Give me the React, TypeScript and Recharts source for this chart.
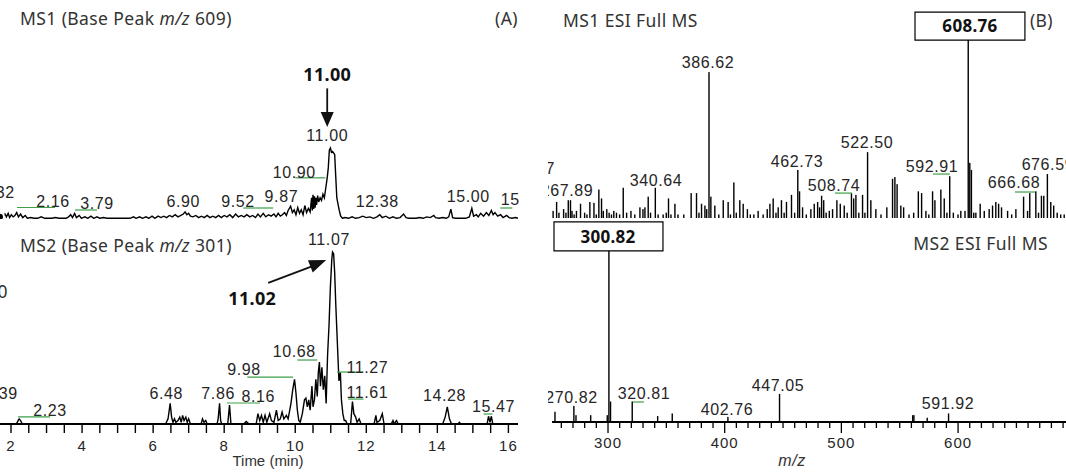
import React from "react";
import {
  Bar,
  BarChart,
  Line,
  LineChart,
  ReferenceArea,
  ReferenceDot,
  ReferenceLine,
  XAxis,
  YAxis,
} from "recharts";

// MS1 base peak chromatogram (m/z 609): [time (min), relative abundance %]
const ms1Trace: [number, number][] = [
  [1.69, 3], [1.74, 6], [1.78, 2], [1.83, 7], [1.87, 3], [1.92, 8], [1.96, 2], [2.01, 6],
  [2.06, 3], [2.11, 5], [2.16, 9], [2.21, 3], [2.27, 7], [2.33, 2], [2.4, 5], [2.46, 1],
  [2.55, 2], [2.65, 1], [2.75, 1], [2.85, 3], [2.95, 1], [3.05, 1], [3.15, 1], [3.25, 2],
  [3.35, 1], [3.45, 1], [3.55, 1], [3.62, 3], [3.68, 6], [3.73, 2], [3.79, 8], [3.84, 2],
  [3.92, 5], [3.98, 1], [4.08, 3], [4.16, 1], [4.25, 4], [4.33, 1], [4.42, 3], [4.5, 1],
  [4.6, 2], [4.7, 1], [4.8, 1], [4.9, 1], [5.0, 1], [5.1, 1], [5.2, 1], [5.35, 1],
  [5.45, 3], [5.52, 1], [5.62, 3], [5.7, 1], [5.8, 3], [5.88, 1], [5.97, 4], [6.05, 1],
  [6.14, 4], [6.22, 2], [6.3, 4], [6.38, 2], [6.46, 5], [6.54, 3], [6.62, 6], [6.7, 3],
  [6.78, 5], [6.85, 7], [6.9, 10], [6.95, 6], [7.0, 8], [7.05, 4], [7.12, 3], [7.2, 5],
  [7.28, 2], [7.36, 4], [7.44, 2], [7.52, 5], [7.6, 2], [7.68, 4], [7.76, 2], [7.84, 5],
  [7.92, 2], [8.0, 5], [8.08, 3], [8.16, 6], [8.24, 2], [8.32, 7], [8.4, 3], [8.48, 5],
  [8.56, 3], [8.64, 6], [8.72, 3], [8.8, 5], [8.88, 2], [8.95, 7], [9.02, 3], [9.1, 8],
  [9.17, 3], [9.25, 6], [9.32, 4], [9.4, 7], [9.46, 3], [9.52, 8], [9.58, 4], [9.64, 6],
  [9.7, 9], [9.75, 5], [9.8, 12], [9.87, 18], [9.92, 9], [9.97, 13], [10.02, 6], [10.07, 16],
  [10.12, 8], [10.17, 13], [10.22, 6], [10.27, 19], [10.32, 9], [10.37, 15], [10.42, 10],
  [10.46, 30], [10.48, 12], [10.5, 34], [10.52, 14], [10.54, 32], [10.56, 16], [10.58, 30],
  [10.6, 20], [10.63, 33], [10.66, 24], [10.7, 30], [10.74, 26], [10.78, 35], [10.82, 30],
  [10.86, 44], [10.9, 58], [10.93, 72], [10.96, 97], [10.99, 100], [11.02, 94], [11.05, 95],
  [11.08, 93], [11.11, 91], [11.14, 60], [11.17, 30], [11.2, 22], [11.24, 12], [11.28, 4],
  [11.33, 1], [11.4, 2], [11.5, 1], [11.6, 3], [11.7, 1], [11.8, 2], [11.9, 4], [12.0, 2],
  [12.1, 3], [12.2, 1], [12.3, 3], [12.38, 6], [12.45, 2], [12.55, 4], [12.65, 1], [12.75, 3],
  [12.85, 1], [12.95, 2], [13.05, 7], [13.12, 2], [13.2, 1], [13.3, 1], [13.4, 1], [13.5, 2],
  [13.6, 1], [13.7, 3], [13.8, 2], [13.9, 5], [13.95, 2], [14.05, 1], [14.15, 2], [14.25, 1],
  [14.32, 3], [14.38, 14], [14.43, 2], [14.5, 1], [14.6, 1], [14.7, 1], [14.8, 1], [14.9, 3],
  [14.97, 15], [15.02, 4], [15.1, 6], [15.15, 3], [15.22, 8], [15.3, 4], [15.38, 9], [15.45, 5],
  [15.52, 12], [15.57, 6], [15.62, 9], [15.7, 4], [15.78, 6], [15.85, 2], [15.95, 5], [16.02, 2],
  [16.1, 1], [16.2, 2], [16.27, 1],
];

// MS2 base peak chromatogram (m/z 301): [time (min), relative abundance %]
const ms2Trace: [number, number][] = [
  [1.69, 0], [2.15, 0], [2.2, 2], [2.23, 3], [2.27, 2], [2.32, 0], [6.35, 0], [6.42, 3],
  [6.48, 12], [6.52, 4], [6.56, 1], [6.6, 3], [6.64, 1], [6.7, 2], [6.75, 4], [6.79, 1],
  [6.83, 5], [6.87, 2], [6.92, 4], [6.96, 1], [7.0, 3], [7.05, 0], [7.35, 0], [7.39, 3],
  [7.43, 1], [7.48, 2], [7.52, 0], [7.8, 0], [7.83, 3], [7.87, 12], [7.9, 2], [7.93, 0],
  [8.1, 0], [8.15, 11], [8.19, 0], [8.55, 0], [8.62, 1.5], [8.7, 0], [8.9, 0], [8.95, 6],
  [9.0, 2], [9.05, 5], [9.1, 1], [9.15, 5], [9.2, 1], [9.28, 6], [9.33, 2], [9.4, 1],
  [9.47, 8], [9.52, 2], [9.58, 3], [9.63, 7], [9.68, 3], [9.75, 5], [9.8, 3], [9.88, 12],
  [9.93, 20], [9.98, 26], [10.02, 18], [10.06, 8], [10.1, 2], [10.14, 1], [10.2, 6],
  [10.26, 14], [10.3, 15], [10.34, 10], [10.38, 14], [10.42, 8], [10.47, 22], [10.5, 10],
  [10.54, 14], [10.58, 26], [10.62, 16], [10.65, 30], [10.68, 36], [10.71, 22], [10.75, 33],
  [10.79, 20], [10.83, 28], [10.87, 12], [10.91, 40], [10.95, 57], [10.99, 80], [11.03, 96],
  [11.05, 100], [11.08, 99], [11.11, 88], [11.14, 70], [11.17, 55], [11.2, 40], [11.23, 25],
  [11.27, 30], [11.3, 14], [11.34, 6], [11.38, 2], [11.42, 2], [11.46, 0], [11.56, 0],
  [11.61, 13], [11.65, 6], [11.7, 4], [11.74, 1], [11.8, 3], [11.85, 0], [12.22, 0],
  [12.27, 5], [12.3, 1], [12.38, 2], [12.45, 6], [12.5, 0], [12.7, 0], [12.75, 2], [12.78, 0],
  [12.85, 2], [12.9, 0], [14.15, 0], [14.22, 4], [14.28, 10], [14.34, 3], [14.4, 0],
  [14.58, 0], [14.62, 1], [14.66, 0], [15.4, 0], [15.44, 4.5], [15.48, 1], [15.52, 4.5],
  [15.56, 0], [16.27, 0],
];

// MS1 ESI full scan: [m/z, relative abundance %]
const ms1Spectrum: [number, number][] = [
  [251, 6], [253, 4], [256, 9], [258, 3], [262, 5], [264, 3], [266, 10], [267.9, 10],
  [269.2, 4], [271, 2], [273, 4], [276.5, 8], [280, 3], [282, 2], [284.5, 9], [288, 8.5],
  [290, 2], [292.2, 16], [294.5, 11], [296, 4], [299, 5], [301, 3], [303, 2], [305, 4],
  [307.3, 3], [310, 2], [313.1, 17], [316, 3], [319.7, 4], [323, 2], [327.4, 6], [330, 5],
  [331.7, 6], [334.5, 12], [336.5, 3], [340.6, 17], [343, 2], [347.3, 2], [350, 3],
  [351.9, 11], [354, 2], [357.4, 8], [360, 2], [365, 2], [371.3, 14], [375.9, 14], [378, 3],
  [380.2, 8], [383.1, 7], [384.6, 5], [386.6, 82], [388.2, 12], [391.6, 7], [395, 2],
  [398.8, 10], [403, 9], [405, 2], [407.9, 20], [410, 3], [413, 10], [415.9, 8], [419.5, 5],
  [422, 2], [425, 2], [428.7, 4], [433, 2], [436.5, 5], [438.8, 8], [441.6, 11], [444, 3],
  [445.9, 6], [448.7, 10], [451, 3], [453, 9], [457.3, 13], [460, 3], [462.7, 27], [464.2, 15],
  [466.8, 6], [470, 2], [473.9, 5], [476.8, 8], [479.7, 9], [481.4, 6], [483.1, 12.5],
  [484.9, 10], [487, 3], [489.7, 4], [492.5, 5], [496.2, 10], [499.1, 8], [502.5, 7], [505, 3],
  [508.7, 14], [510.6, 11], [512.5, 13], [515, 3], [518.2, 13], [520.2, 3], [522.5, 37],
  [525.3, 10], [529.6, 5], [534, 2], [539, 6], [543.9, 22], [545.9, 23], [547.8, 19], [551, 7],
  [553.4, 6], [558, 2], [562, 3], [566, 15], [568.8, 14], [572.5, 4], [575, 2], [578.2, 15],
  [580.2, 10], [585.3, 16], [588.2, 11], [590.5, 3], [592.9, 23.5], [596, 3], [600, 2],
  [602.4, 4], [606, 4], [608.76, 100], [610.1, 31], [611.5, 27], [613.5, 3], [615.3, 3],
  [619, 8], [622.5, 4], [626.7, 5], [629.6, 7], [632.4, 9], [634.8, 8], [637.3, 6],
  [642.5, 4], [646, 2], [649.6, 5], [656.2, 12], [659.6, 4], [661.5, 14], [666.7, 15],
  [669, 3], [671.5, 12.5], [673.5, 12.5], [676.6, 24.7], [679.5, 9], [682, 7], [685, 3],
  [688, 2], [691, 2],
];

// MS2 ESI full scan: [m/z, relative abundance %]
const ms2Spectrum: [number, number][] = [
  [254.6, 6], [270.8, 9.4], [272.6, 4], [285.2, 4], [299.4, 4], [300.82, 100], [302.2, 12],
  [320.8, 12], [342.6, 3.5], [355.1, 5], [402.8, 3], [447.05, 16.4], [561.2, 4], [562.2, 4],
  [573.6, 2.5], [591.9, 5],
];

const timeTicks = [
  2, 2.5, 3, 3.5, 4, 4.5, 5, 5.5, 6, 6.5, 7, 7.5, 8, 8.5, 9, 9.5, 10, 10.5, 11, 11.5, 12,
  12.5, 13, 13.5, 14, 14.5, 15, 15.5, 16,
];
const timeTickLabels = ["2", "4", "6", "8", "10", "12", "14", "16"];

const mzTicks = [
  260, 270, 280, 290, 300, 310, 320, 330, 340, 350, 360, 370, 380, 390, 400, 410, 420, 430,
  440, 450, 460, 470, 480, 490, 500, 510, 520, 530, 540, 550, 560, 570, 580, 590, 600, 610,
  620, 630, 640, 650, 660, 670, 680, 690,
];
const mzTickLabels = ["300", "400", "500", "600"];

// annotation placement, in each panel's data units
type Note = { text: string; x: number; y: number; anchor?: "start" | "middle" | "end" };
type Seg = [number, number, number];

const ms1Notes: Note[] = [
  { text: "1.32", x: 1.63, y: 38 },
  { text: "2.16", x: 3.18, y: 24 },
  { text: "3.79", x: 4.42, y: 22.5 },
  { text: "6.90", x: 6.85, y: 25 },
  { text: "9.52", x: 8.39, y: 25 },
  { text: "9.87", x: 9.61, y: 32 },
  { text: "10.90", x: 9.97, y: 66 },
  { text: "11.00", x: 10.9, y: 118 },
  { text: "12.38", x: 12.31, y: 25 },
  { text: "15.00", x: 14.87, y: 31 },
  { text: "15.48", x: 16.39, y: 27 },
];
const ms1Greens: Seg[] = [
  [2.17, 3.24, 16.2],
  [3.8, 4.42, 12.7],
  [8.54, 9.38, 15.5],
  [10.0, 10.85, 58],
  [15.77, 16.11, 15.5],
];

const ms2Notes: Note[] = [
  { text: "1.39", x: 1.72, y: 18 },
  { text: "2.23", x: 3.1, y: 8.1 },
  { text: "6.48", x: 6.37, y: 18 },
  { text: "7.86", x: 7.83, y: 18 },
  { text: "8.16", x: 8.96, y: 15.7 },
  { text: "9.98", x: 8.56, y: 31.4 },
  { text: "10.68", x: 9.97, y: 41.9 },
  { text: "11.07", x: 10.95, y: 107 },
  { text: "11.27", x: 12.03, y: 33.1 },
  { text: "11.61", x: 12.03, y: 18.6 },
  { text: "14.28", x: 14.2, y: 16.3 },
  { text: "15.47", x: 15.58, y: 9.9 },
];
const ms2Greens: Seg[] = [
  [2.2, 3.1, 4.1],
  [8.08, 9.01, 12.2],
  [8.65, 9.94, 27.3],
  [10.06, 10.62, 37.2],
  [11.18, 11.92, 30.2],
  [11.49, 11.92, 14.5],
  [15.3, 15.55, 5.8],
];

const spec1Notes: Note[] = [
  { text: "249.87", x: 254.6, y: 28, anchor: "end" },
  { text: "267.89", x: 264.9, y: 15.2 },
  { text: "340.64", x: 341.1, y: 21.3 },
  { text: "386.62", x: 385.7, y: 87.6 },
  { text: "462.73", x: 462, y: 31.5 },
  { text: "508.74", x: 493.7, y: 18.5 },
  { text: "522.50", x: 522, y: 42.7 },
  { text: "592.91", x: 577.6, y: 28.7 },
  { text: "666.68", x: 647.9, y: 19.7 },
  { text: "676.59", x: 677, y: 30.3 },
];
const spec1Greens: Seg[] = [
  [494.5, 509.1, 14],
  [578.5, 593, 24.7],
  [648.8, 665.9, 14.6],
];

const spec2Notes: Note[] = [
  { text: "270.82", x: 268.7, y: 14.6 },
  { text: "320.81", x: 330.8, y: 16.4 },
  { text: "402.76", x: 402, y: 7.6 },
  { text: "447.05", x: 445.7, y: 21.6 },
  { text: "591.92", x: 591.3, y: 11.1 },
];
const spec2Greens: Seg[] = [[321.4, 330.8, 11.7]];

const LABEL_FONT = "'Liberation Sans', Arial, sans-serif";
const TITLE_FONT = "'Noto Sans', 'DejaVu Sans', sans-serif";
const INK = "#262626";
const GREEN = "#3d9f48";

const toPoints = (rows: [number, number][]) => rows.map(([x, v]) => ({ x, v }));

const textShape =
  (text: string, anchor: string, size: number, bold: boolean) => (p: any) => (
    <text
      x={p.cx}
      y={p.cy}
      textAnchor={anchor}
      dominantBaseline="central"
      fontFamily={bold ? TITLE_FONT : LABEL_FONT}
      fontSize={size}
      fontWeight={bold ? 700 : 400}
      letterSpacing={bold ? 0.3 : 0.6}
      fill={bold ? "#111" : INK}
    >
      {text}
    </text>
  );

const arrowHead = (angle: number, len: number, half: number) => (p: any) => {
  const a = (angle * Math.PI) / 180;
  const c = Math.cos(a);
  const s = Math.sin(a);
  const bx = p.cx - len * c;
  const by = p.cy - len * s;
  const pts = `${p.cx},${p.cy} ${bx - half * s},${by + half * c} ${bx + half * s},${by - half * c}`;
  return <polygon points={pts} fill="#111" />;
};

function notes(list: Note[], prefix: string) {
  return list.map((n, i) => (
    <ReferenceDot
      key={`${prefix}-n${i}`}
      x={n.x}
      y={n.y}
      r={0}
      ifOverflow="visible"
      shape={textShape(n.text, n.anchor ?? "middle", 16, false)}
    />
  ));
}

function greens(list: Seg[], prefix: string) {
  return list.map(([x1, x2, y], i) => (
    <ReferenceLine
      key={`${prefix}-g${i}`}
      segment={[
        { x: x1, y },
        { x: x2, y },
      ]}
      stroke={GREEN}
      strokeWidth={1.2}
      ifOverflow="visible"
    />
  ));
}

const TimeTick = ({ x, y, payload }: any) => {
  const label = String(payload.value);
  return (
    <g>
      <line x1={x} x2={x} y1={y} y2={y + 9} stroke="#000" strokeWidth={1.4} />
      {timeTickLabels.includes(label) ? (
        <text
          x={x}
          y={y + 21}
          textAnchor="middle"
          dominantBaseline="central"
          fontFamily={LABEL_FONT}
          fontSize={15}
          letterSpacing={1}
          fill={INK}
        >
          {label}
        </text>
      ) : null}
    </g>
  );
};

const MzTick = ({ x, y, payload }: any) => {
  const label = String(payload.value);
  const major = mzTickLabels.includes(label);
  return (
    <g>
      <line x1={x} x2={x} y1={y} y2={y + (major ? 11 : 6)} stroke="#000" strokeWidth={1.3} />
      {major ? (
        <text
          x={x}
          y={y + 20}
          textAnchor="middle"
          dominantBaseline="central"
          fontFamily={LABEL_FONT}
          fontSize={15}
          letterSpacing={1}
          fill={INK}
        >
          {label}
        </text>
      ) : null}
    </g>
  );
};

const Stick = (p: any) => {
  const cx = p.x + p.width / 2;
  if (!(p.height > 0)) return null;
  return <rect x={cx - 0.7} y={p.y} width={1.4} height={p.height} fill="#000" />;
};

const TIME_DOMAIN: [number, number] = [1.69, 16.27];
const MZ_DOMAIN: [number, number] = [252, 692.5];

export default function App() {
  return (
    <div
      style={{
        position: "absolute",
        left: 0,
        top: 0,
        width: 1066,
        height: 473,
        background: "#fff",
        overflow: "hidden",
      }}
    >
      {/* (A) chromatograms */}
      <div style={{ position: "absolute", left: 0, top: 0, width: 520, height: 473, overflow: "hidden" }}>
        <div style={{ position: "absolute", left: 0, top: 0 }}>
          <LineChart
            width={520}
            height={230}
            data={toPoints(ms1Trace)}
            margin={{ top: 0, right: 2, bottom: 11, left: 0 }}
          >
            <XAxis
              dataKey="x"
              type="number"
              domain={TIME_DOMAIN}
              allowDataOverflow
              height={0}
              tick={false}
              tickLine={false}
              axisLine={{ stroke: "#000", strokeWidth: 1.9 }}
            />
            <YAxis type="number" domain={[0, 308.5]} hide width={0} allowDataOverflow />
            <Line
              dataKey="v"
              type="linear"
              stroke="#000"
              strokeWidth={1.4}
              dot={false}
              isAnimationActive={false}
            />
            {greens(ms1Greens, "m1")}
            {notes(ms1Notes, "m1")}
            <ReferenceDot
              x={10.9}
              y={204}
              r={0}
              ifOverflow="visible"
              shape={textShape("11.00", "middle", 18, true)}
            />
            <ReferenceLine
              segment={[
                { x: 10.9, y: 184 },
                { x: 10.9, y: 140 },
              ]}
              stroke="#111"
              strokeWidth={1.8}
              ifOverflow="visible"
            />
            <ReferenceDot x={10.9} y={129.5} r={0} ifOverflow="visible" shape={arrowHead(90, 15, 6.5)} />
          </LineChart>
        </div>
        <div style={{ position: "absolute", left: 0, top: 220 }}>
          <LineChart
            width={520}
            height={253}
            data={toPoints(ms2Trace)}
            margin={{ top: 0, right: 2, bottom: 0, left: 0 }}
          >
            <XAxis
              dataKey="x"
              type="number"
              domain={TIME_DOMAIN}
              allowDataOverflow
              height={49}
              ticks={timeTicks}
              interval={0}
              tickSize={0}
              tickMargin={0}
              tickLine={false}
              tick={<TimeTick />}
              axisLine={{ stroke: "#000", strokeWidth: 1.9 }}
            />
            <YAxis type="number" domain={[0, 118.6]} hide width={0} allowDataOverflow />
            <Line
              dataKey="v"
              type="linear"
              stroke="#000"
              strokeWidth={1.4}
              dot={false}
              isAnimationActive={false}
            />
            {greens(ms2Greens, "m2")}
            {notes(ms2Notes, "m2")}
            <ReferenceDot
              x={8.79}
              y={73.3}
              r={0}
              ifOverflow="visible"
              shape={textShape("11.02", "middle", 18, true)}
            />
            <ReferenceLine
              segment={[
                { x: 9.24, y: 82 },
                { x: 10.45, y: 91.5 },
              ]}
              stroke="#111"
              strokeWidth={1.8}
              ifOverflow="visible"
            />
            <ReferenceDot x={10.87} y={95.3} r={0} ifOverflow="visible" shape={arrowHead(-21.6, 17, 6.5)} />
          </LineChart>
        </div>
      </div>

      {/* (B) mass spectra */}
      <div style={{ position: "absolute", left: 548, top: 0, width: 518, height: 473, overflow: "hidden" }}>
        <div style={{ position: "absolute", left: -18, top: 0 }}>
          <BarChart
            width={536}
            height={230}
            data={toPoints(ms1Spectrum)}
            margin={{ top: 0, right: 0, bottom: 12, left: 22 }}
            barSize={1.4}
          >
            <XAxis
              dataKey="x"
              type="number"
              domain={MZ_DOMAIN}
              allowDataOverflow
              height={0}
              tick={false}
              tickLine={false}
              axisLine={{ stroke: "#000", strokeWidth: 1.9 }}
            />
            <YAxis type="number" domain={[0, 122.5]} hide width={0} allowDataOverflow />
            <Bar dataKey="v" fill="#000" shape={<Stick />} isAnimationActive={false} />
            {greens(spec1Greens, "s1")}
            {notes(spec1Notes, "s1")}
            <ReferenceArea
              x1={563.1}
              x2={657.3}
              y1={100}
              y2={115.7}
              fill="#fff"
              fillOpacity={1}
              stroke="#000"
              strokeWidth={1.2}
              ifOverflow="visible"
            />
            <ReferenceDot
              x={610.2}
              y={107.9}
              r={0}
              ifOverflow="visible"
              shape={textShape("608.76", "middle", 17, true)}
            />
          </BarChart>
        </div>
        <div style={{ position: "absolute", left: -18, top: 220 }}>
          <BarChart
            width={536}
            height={253}
            data={toPoints(ms2Spectrum)}
            margin={{ top: 0, right: 0, bottom: 0, left: 22 }}
            barSize={1.4}
          >
            <XAxis
              dataKey="x"
              type="number"
              domain={MZ_DOMAIN}
              allowDataOverflow
              height={51}
              ticks={mzTicks}
              interval={0}
              tickSize={0}
              tickMargin={0}
              tickLine={false}
              tick={<MzTick />}
              axisLine={{ stroke: "#000", strokeWidth: 1.9 }}
            />
            <YAxis type="number" domain={[0, 118.1]} hide width={0} allowDataOverflow />
            <Bar dataKey="v" fill="#000" shape={<Stick />} isAnimationActive={false} />
            {greens(spec2Greens, "s2")}
            {notes(spec2Notes, "s2")}
            <ReferenceArea
              x1={253.7}
              x2={347.1}
              y1={100}
              y2={117}
              fill="#fff"
              fillOpacity={1}
              stroke="#000"
              strokeWidth={1.2}
              ifOverflow="visible"
            />
            <ReferenceDot
              x={300}
              y={108.2}
              r={0}
              ifOverflow="visible"
              shape={textShape("300.82", "middle", 17, true)}
            />
          </BarChart>
        </div>
      </div>

      {/* panel titles and axis names */}
      <svg
        width={1066}
        height={473}
        style={{ position: "absolute", left: 0, top: 0, pointerEvents: "none" }}
        fontFamily={TITLE_FONT}
        fontSize={17.5}
        letterSpacing={0.4}
        fill="#333"
      >
        <text x={20} y={18} dominantBaseline="central">
          MS1 (Base Peak <tspan fontStyle="italic">m/z</tspan> 609)
        </text>
        <text x={518} y={18} textAnchor="end" dominantBaseline="central">
          (A)
        </text>
        <text x={20} y={245} dominantBaseline="central">
          MS2 (Base Peak <tspan fontStyle="italic">m/z</tspan> 301)
        </text>
        <text x={8} y={291} textAnchor="end" dominantBaseline="central">
          100
        </text>
        <text x={563} y={20} dominantBaseline="central">
          MS1 ESI Full MS
        </text>
        <text x={1053} y={20} textAnchor="end" dominantBaseline="central">
          (B)
        </text>
        <text x={1048} y={243} textAnchor="end" dominantBaseline="central">
          MS2 ESI Full MS
        </text>
        <text
          x={268}
          y={460}
          textAnchor="middle"
          dominantBaseline="central"
          fontFamily={LABEL_FONT}
          fontSize={15}
          letterSpacing={0}
        >
          Time (min)
        </text>
        <text
          x={792}
          y={460}
          textAnchor="middle"
          dominantBaseline="central"
          fontFamily={LABEL_FONT}
          fontSize={16}
          letterSpacing={0.5}
          fontStyle="italic"
        >
          m/z
        </text>
      </svg>
    </div>
  );
}
